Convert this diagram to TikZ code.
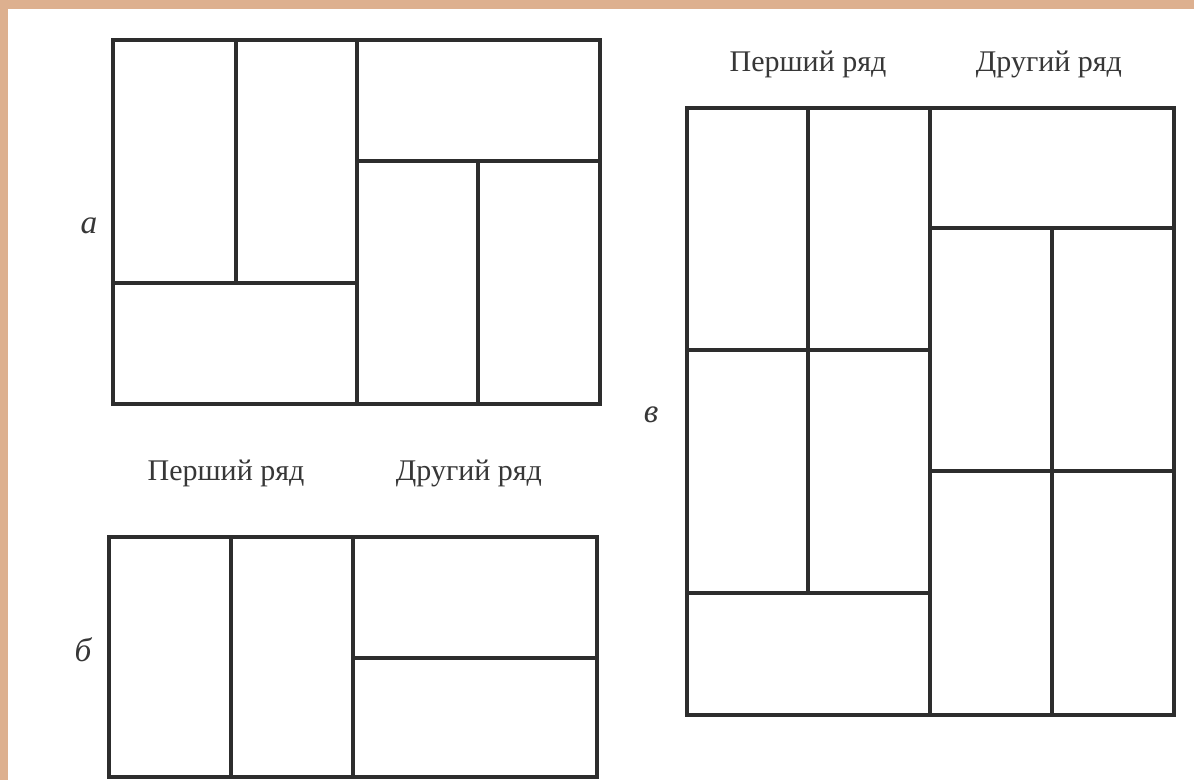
\documentclass[tikz,border=0pt]{standalone}
\usepackage{fontspec}
\setmainfont{Liberation Serif}
\definecolor{frame}{RGB}{221,176,143}
\definecolor{ink}{RGB}{45,45,45}
\definecolor{txt}{RGB}{55,55,55}
\begin{document}
\begin{tikzpicture}[x=0.75pt,y=-0.75pt,
  wall/.style={draw=ink,line width=3pt,line cap=rect,line join=miter},
  lbl/.style={text=txt,font=\fontsize{22.5}{22.5}\selectfont,inner sep=0pt},
  letter/.style={text=txt,font=\itshape\fontsize{25}{25}\selectfont,inner sep=0pt}]
\useasboundingbox (0,0) rectangle (1194,780);
\fill[white] (0,0) rectangle (1194,780);
\fill[frame] (0,0) rectangle (1194,9);
\fill[frame] (0,0) rectangle (8,780);
% --- a ---
\draw[wall] (113,40) rectangle (600,404);
\draw[wall] (236,40) -- (236,283);
\draw[wall] (357,40) -- (357,404);
\draw[wall] (113,283) -- (357,283);
\draw[wall] (357,161) -- (600,161);
\draw[wall] (478,161) -- (478,404);
\node[letter] (la) at (89,226) {а};
% --- b ---
\draw[wall] (109,537) rectangle (597,777);
\draw[wall] (231,537) -- (231,777);
\draw[wall] (353,537) -- (353,777);
\draw[wall] (353,658) -- (597,658);
\node[letter] (lb) at (83,650) {б};
\node[lbl] (b1) at (226,473) {Перший ряд};
\node[lbl] (b2) at (469,473) {Другий ряд};
% --- v ---
\draw[wall] (687,108) rectangle (1174,715);
\draw[wall] (808,108) -- (808,593);
\draw[wall] (930,108) -- (930,715);
\draw[wall] (687,350) -- (930,350);
\draw[wall] (687,593) -- (930,593);
\draw[wall] (930,228) -- (1174,228);
\draw[wall] (930,471) -- (1174,471);
\draw[wall] (1052,228) -- (1052,715);
\node[letter] (lv) at (651,415) {в};
\node[lbl] (v1) at (808,64) {Перший ряд};
\node[lbl] (v2) at (1049,64) {Другий ряд};
\end{tikzpicture}
\end{document}
